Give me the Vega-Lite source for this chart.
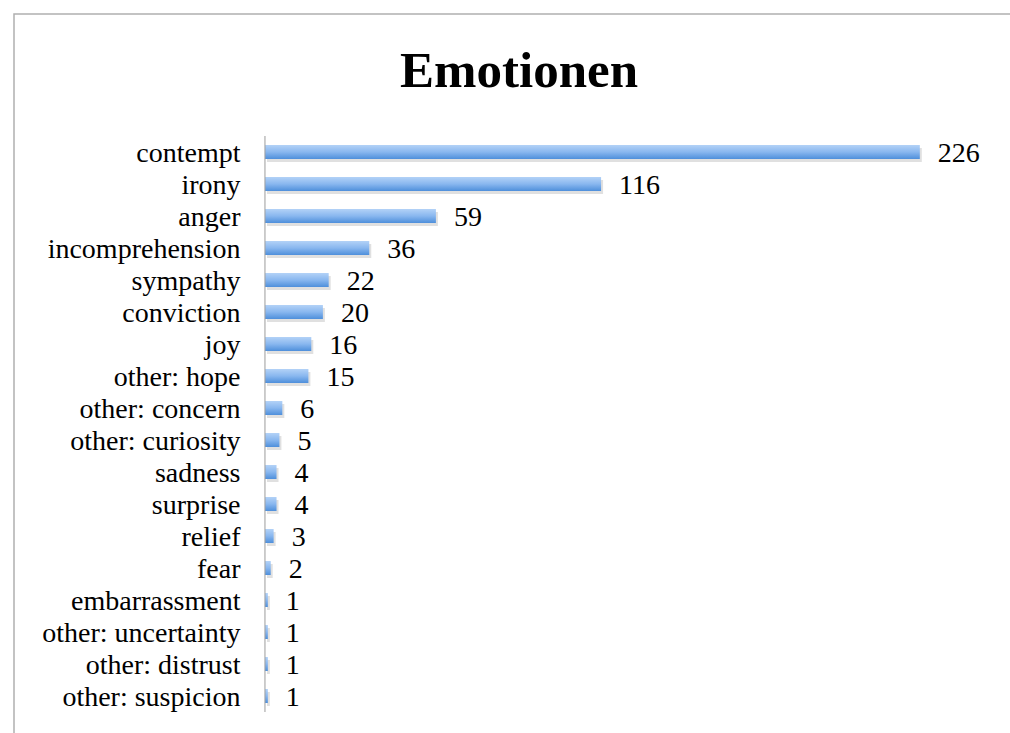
{
  "$schema": "https://vega.github.io/schema/vega-lite/v6.json",
  "autosize": {"type": "none"},
  "padding": {"left": 14, "top": 14, "right": 0, "bottom": 0},
  "width": 1000,
  "height": 820,
  "background": "white",
  "title": {
    "text": "Emotionen",
    "font": "Liberation Serif",
    "fontSize": 51,
    "fontWeight": "bold",
    "color": "black",
    "anchor": "middle",
    "offset": -84,
    "dx": 5
  },
  "config": {
    "view": {"stroke": "#b0b0b0", "strokeWidth": 1.5}
  },
  "data": {
    "values": [
      {"emotion": "contempt", "count": 226},
      {"emotion": "irony", "count": 116},
      {"emotion": "anger", "count": 59},
      {"emotion": "incomprehension", "count": 36},
      {"emotion": "sympathy", "count": 22},
      {"emotion": "conviction", "count": 20},
      {"emotion": "joy", "count": 16},
      {"emotion": "other: hope", "count": 15},
      {"emotion": "other: concern", "count": 6},
      {"emotion": "other: curiosity", "count": 5},
      {"emotion": "sadness", "count": 4},
      {"emotion": "surprise", "count": 4},
      {"emotion": "relief", "count": 3},
      {"emotion": "fear", "count": 2},
      {"emotion": "embarrassment", "count": 1},
      {"emotion": "other: uncertainty", "count": 1},
      {"emotion": "other: distrust", "count": 1},
      {"emotion": "other: suspicion", "count": 1}
    ]
  },
  "encoding": {
    "y": {
      "field": "emotion",
      "type": "nominal",
      "sort": null,
      "scale": {"range": [122, 698], "paddingInner": 0.5625, "paddingOuter": 0.28125},
      "axis": {
        "title": null,
        "domain": false,
        "ticks": false,
        "offset": -251,
        "labelPadding": 25,
        "labelOffset": 2,
        "labelFont": "Liberation Serif",
        "labelFontSize": 28,
        "labelColor": "black",
        "labelLimit": 400
      }
    }
  },
  "layer": [
    {
      "mark": {"type": "bar", "color": "#000000", "opacity": 0.12, "xOffset": 2, "yOffset": 3},
      "encoding": {
        "x": {"field": "count", "type": "quantitative", "scale": {"domain": [-86.6, 258.5], "zero": false, "nice": false}, "axis": null}
      }
    },
    {
      "mark": {
        "type": "bar",
        "color": {
          "gradient": "linear", "x1": 0, "y1": 0, "x2": 0, "y2": 1,
          "stops": [
            {"offset": 0, "color": "#b3d2f7"},
            {"offset": 0.5, "color": "#89b7ef"},
            {"offset": 1, "color": "#4e8fdb"}
          ]
        }
      },
      "encoding": {
        "x": {"field": "count", "type": "quantitative"}
      }
    },
    {
      "mark": {"type": "tick", "color": "#a0a0a0", "thickness": 1.5, "size": 32, "orient": "vertical"},
      "encoding": {
        "x": {"datum": 0, "type": "quantitative"}
      }
    },
    {
      "mark": {"type": "text", "align": "left", "baseline": "middle", "dx": 18, "dy": 2, "font": "Liberation Serif", "fontSize": 28, "color": "black"},
      "encoding": {
        "x": {"field": "count", "type": "quantitative"},
        "text": {"field": "count", "type": "quantitative"}
      }
    }
  ]
}
